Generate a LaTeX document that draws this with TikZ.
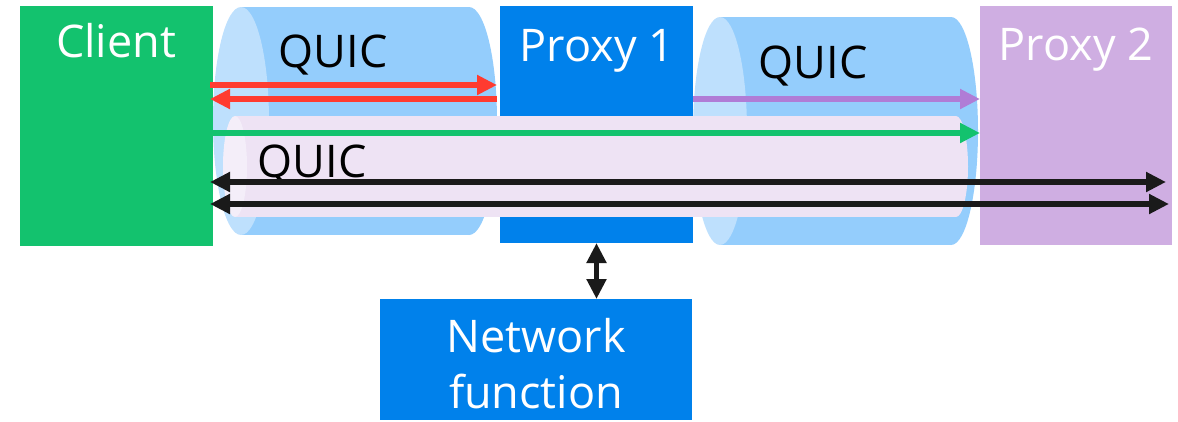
\documentclass[tikz,border=0pt]{standalone}
\usepackage{fontspec}
\setmainfont{Open Sans}
\usetikzlibrary{arrows.meta}

\definecolor{clientgreen}{RGB}{19,194,110}
\definecolor{proxyblue}{RGB}{0,129,235}
\definecolor{proxypurple}{RGB}{207,174,226}
\definecolor{tubebody}{RGB}{148,205,252}
\definecolor{tubeface}{RGB}{190,224,253}
\definecolor{pinkbody}{RGB}{238,227,244}
\definecolor{pinkface}{RGB}{244,238,249}
\definecolor{flowred}{RGB}{255,59,48}
\definecolor{flowpurple}{RGB}{176,124,214}
\definecolor{flowblack}{RGB}{26,26,26}

\tikzset{
  box/.style={draw=none, inner sep=0pt, outer sep=0pt},
  boxtext/.style={text=white, font=\fontsize{45}{56}\selectfont, inner sep=0pt, anchor=base},
  quic/.style={text=black, font=\fontsize{45}{56}\selectfont, inner sep=0pt, anchor=base},
  tip/.tip={Triangle[length=20pt, width=19pt]},
  oneway/.style={line width=6.5pt, -tip},
  twoway/.style={line width=6.5pt, tip-tip},
}

\begin{document}
\begin{tikzpicture}[x=1pt, y=-1pt]
  \useasboundingbox (0,0) rectangle (1178,421);

  % QUIC tube between client and proxy 1
  \fill[tubebody] (241,7) rectangle (469,235);
  \fill[tubebody] (469,121) ellipse [x radius=28, y radius=114];
  \fill[tubeface] (241,121) ellipse [x radius=28, y radius=114];

  % QUIC tube between proxy 1 and proxy 2
  \fill[tubebody] (720,17) rectangle (951,245);
  \fill[tubebody] (951,131) ellipse [x radius=27, y radius=114];
  \fill[tubeface] (720,131) ellipse [x radius=27, y radius=114];

  % endpoints
  \node[box, fill=clientgreen, minimum width=193pt, minimum height=240pt] (client) at (116.5,126) {};
  \node[box, fill=proxyblue, minimum width=193pt, minimum height=237pt] (proxy1) at (596.5,124.5) {};
  \node[box, fill=proxypurple, minimum width=192pt, minimum height=239pt] (proxy2) at (1076,125.5) {};
  \node[box, fill=proxyblue, minimum width=312pt, minimum height=121pt] (nf) at (536,359.5) {};

  % end-to-end QUIC tube from client to proxy 2
  \fill[pinkbody] (235,116) rectangle (956,217);
  \fill[pinkbody] (956,166.5) ellipse [x radius=12, y radius=50.5];
  \fill[pinkface] (235,166.5) ellipse [x radius=12, y radius=50.5];

  % labels
  \node[boxtext] (clientlbl) at (116,57) {Client};
  \node[boxtext] (proxy1lbl) at (597,61) {Proxy 1};
  \node[boxtext] (proxy2lbl) at (1076,60) {Proxy 2};
  \node[boxtext] (nflbl1) at (536,352) {Network};
  \node[boxtext] (nflbl2) at (536,408) {function};
  \node[quic] (quic1) at (333,67) {QUIC};
  \node[quic] (quic2) at (813,78) {QUIC};
  \node[quic] (quic3) at (312,177) {QUIC};

  % flows
  \draw[oneway, flowred] ([xshift=-3pt]client.east |- 0,85) -- ([xshift=-3pt]proxy1.west |- 0,85);
  \draw[oneway, flowred] ([xshift=-3pt]proxy1.west |- 0,99) -- ([xshift=-3pt]client.east |- 0,99);
  \draw[oneway, flowpurple] (proxy1.east |- 0,99) -- (proxy2.west |- 0,99);
  \draw[oneway, clientgreen] (client.east |- 0,133) -- (proxy2.west |- 0,133);
  \draw[twoway, flowblack] ([xshift=-3pt]client.east |- 0,182) -- ([xshift=-6pt]proxy2.east |- 0,182);
  \draw[twoway, flowblack] ([xshift=-3pt]client.east |- 0,204) -- ([xshift=-3pt]proxy2.east |- 0,204);
  \draw[line width=5pt, tip-tip, flowblack] (proxy1.south) -- (proxy1.south |- nf.north);
\end{tikzpicture}
\end{document}
